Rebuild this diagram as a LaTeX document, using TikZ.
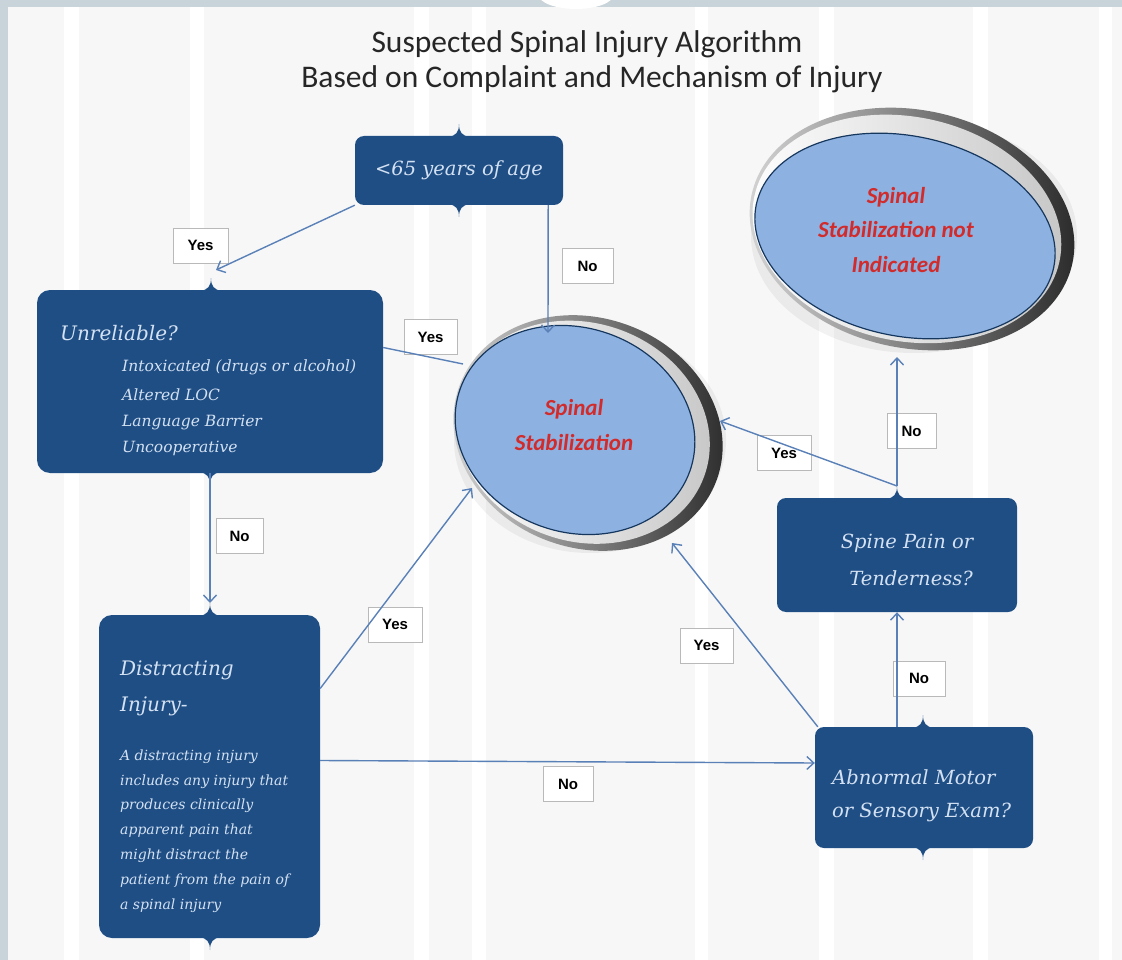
\documentclass[tikz,border=0pt]{standalone}
\usepackage{fontspec}
\setmainfont{DejaVu Serif}
\newfontfamily\titlefont{Carlito}
\newfontfamily\boxfont{DejaVu Serif}
\newfontfamily\labelfont{Liberation Sans}
\usetikzlibrary{arrows.meta,shapes.geometric,calc}
\definecolor{boxblue}{HTML}{1F4E85}
\definecolor{boxtext}{HTML}{D3E1F2}
\definecolor{arrowblue}{HTML}{5A80B8}
\definecolor{ellblue}{HTML}{8DB1E1}
\definecolor{redtext}{HTML}{D22B2B}
\definecolor{bggray}{HTML}{C9D3DA}
\definecolor{bgpaper}{HTML}{F7F7F7}
\newcommand\cuspUp[2]{\fill[boxblue] (#1-11,#2+1) .. controls (#1-3,#2) and (#1,#2-4) .. (#1,#2-12) .. controls (#1,#2-4) and (#1+3,#2) .. (#1+11,#2+1) -- cycle;}
\newcommand\cuspDown[2]{\fill[boxblue] (#1-11,#2-1) .. controls (#1-3,#2) and (#1,#2+4) .. (#1,#2+12) .. controls (#1,#2+4) and (#1+3,#2) .. (#1+11,#2-1) -- cycle;}
\begin{document}
\begin{tikzpicture}[x=1pt,y=-1pt,
  flowbox/.style={draw=none, fill=boxblue, rounded corners=9pt, inner sep=0pt},
  boxtxt/.style={text=boxtext, inner sep=0pt},
  lbl/.style={draw=gray!55, line width=0.8pt, fill=white, minimum height=35pt, inner sep=0pt, font=\labelfont\bfseries\fontsize{15}{15}\selectfont, text=black},
  conn/.style={draw=arrowblue, line width=1.4pt, -{Straight Barb[length=7pt,width=13pt,line width=1.4pt]}},
  plainconn/.style={draw=arrowblue, line width=1.4pt},
  elltxt/.style={text=redtext, font=\titlefont\bfseries\itshape\fontsize{23}{34.5}\selectfont, align=center, inner sep=0pt}
]
\useasboundingbox (0,0) rectangle (1122,960);
% background
\begin{scope}
\clip (0,0) rectangle (1122,960);
\fill[bggray] (0,0) rectangle (1122,960);
\fill[bgpaper] (8,7) rectangle (1122,960);
\foreach \a/\b in {64/79,190/204,414/429,472/486,695/708,819/834,973/988,1099/1112}
  \fill[white] (\a,7) rectangle (\b,960);
\fill[white] (576,-6) ellipse [x radius=38pt, y radius=15pt];
\end{scope}
% title
\node[font=\titlefont\fontsize{31.5}{35}\selectfont, text=black!85] (title1) at (587,44) {Suspected Spinal Injury Algorithm};
\node[font=\titlefont\fontsize{31.5}{35}\selectfont, text=black!85] (title2) at (592,79) {Based on Complaint and Mechanism of Injury};
% ellipse 1
\fill[black, opacity=0.05] (590,440) ellipse [x radius=136pt, y radius=113pt];
\begin{scope}[shift={(588,433)}, rotate=-20]
\shade[left color=gray!30, right color=black!85] (0,0) ellipse [x radius=137pt, y radius=115pt];
\shade[left color=white, right color=gray!45] (-5,1) ellipse [x radius=129pt, y radius=109pt];
\end{scope}
\node[ellipse, fill=ellblue, draw=boxblue!70!black, line width=1.2pt, minimum width=244pt, minimum height=204pt, rotate=-20, inner sep=0pt] (e1) at (575,430) {};
\node[elltxt] (e1t) at (574,425) {Spinal\\Stabilization};
% ellipse 2
\fill[black, opacity=0.05] (914,236) ellipse [x radius=163pt, y radius=117pt];
\begin{scope}[shift={(912,229)}, rotate=-12]
\shade[left color=gray!30, right color=black!85] (0,0) ellipse [x radius=164pt, y radius=119pt];
\shade[left color=white, right color=gray!45] (-5,1) ellipse [x radius=156pt, y radius=112pt];
\end{scope}
\node[ellipse, fill=ellblue, draw=boxblue!70!black, line width=1.2pt, minimum width=304pt, minimum height=200pt, rotate=-12, inner sep=0pt] (e2) at (905,236) {};
\node[elltxt] (e2t) at (896,230) {Spinal\\Stabilization not\\Indicated};
% boxes
\node[flowbox, minimum width=208pt, minimum height=69pt] (b1) at (459,170.5) {};
\cuspUp{459}{136}\cuspDown{459}{205}
\node[flowbox, minimum width=346pt, minimum height=183pt, rounded corners=13pt] (b2) at (210,381.5) {};
\cuspUp{211}{290}\cuspDown{210}{473}
\node[flowbox, minimum width=221pt, minimum height=323pt, rounded corners=13pt] (b3) at (209.5,776.5) {};
\cuspUp{210}{615}\cuspDown{210}{938}
\node[flowbox, minimum width=240pt, minimum height=114pt] (b4) at (897,555) {};
\cuspUp{897}{498}
\node[flowbox, minimum width=218pt, minimum height=121pt] (b5) at (924,787.5) {};
\cuspUp{923}{727}\cuspDown{923}{848}
% box texts
\node[boxtxt, font=\boxfont\itshape\fontsize{19.5}{20}\selectfont] (t1) at (459,170) {<65 years of age};
\node[boxtxt, font=\boxfont\itshape\fontsize{20}{20}\selectfont, anchor=west] (t2) at (60,333) {Unreliable?};
\foreach \y/\s [count=\i] in {367/Intoxicated (drugs or alcohol),395/Altered LOC,423/Language Barrier,448/Uncooperative}
  \node[boxtxt, font=\boxfont\itshape\fontsize{15.5}{16}\selectfont, anchor=west] (t2\i) at (122,\y) {\s};
\node[boxtxt, font=\boxfont\itshape\fontsize{20}{20}\selectfont, anchor=west] (t3a) at (120,670) {Distracting};
\node[boxtxt, font=\boxfont\itshape\fontsize{20}{20}\selectfont, anchor=west] (t3b) at (120,706) {Injury-};
\foreach \y/\s [count=\i] in {757/A distracting injury,782/includes any injury that,806/produces clinically,831/apparent pain that,856/might distract the,881/patient from the pain of,906/a spinal injury}
  \node[boxtxt, font=\boxfont\itshape\fontsize{14}{14}\selectfont, anchor=west] (t3\i) at (120,\y) {\s};
\node[boxtxt, font=\boxfont\itshape\fontsize{19.5}{20}\selectfont] (t4a) at (907,543) {Spine Pain or};
\node[boxtxt, font=\boxfont\itshape\fontsize{19.5}{20}\selectfont] (t4b) at (911,578) {Tenderness?};
\node[boxtxt, font=\boxfont\itshape\fontsize{19.5}{20}\selectfont, anchor=west] (t5a) at (832,777) {Abnormal Motor};
\node[boxtxt, font=\boxfont\itshape\fontsize{19.5}{20}\selectfont, anchor=west] (t5b) at (832,812) {or Sensory Exam?};
% labels
\node[lbl, minimum width=55pt] (l1) at (200.5,245.5) {Yes};
\node[lbl, minimum width=51pt] (l2) at (587.5,266) {No};
\node[lbl, minimum width=53pt] (l3) at (430.5,337) {Yes};
\node[lbl, minimum width=47pt] (l4) at (239.5,536) {No};
\node[lbl, minimum width=54pt] (l5) at (395,624.5) {Yes};
\node[lbl, minimum width=50pt] (l6) at (568,784) {No};
\node[lbl, minimum width=53pt] (l7) at (706.5,645.5) {Yes};
\node[lbl, minimum width=52pt] (l8) at (919,678.5) {No};
\node[lbl, minimum width=54pt] (l9) at (784,453) {Yes};
\node[lbl, minimum width=49pt] (l10) at (911.5,431) {No};
% connector end points
\coordinate (p1) at (216,270);
\coordinate (p2) at (548,333);
\coordinate (p3) at (463,364);
\coordinate (p4) at (210,603);
\coordinate (p5) at (472,488);
\coordinate (p7) at (672,543);
\coordinate (b4top) at (897,486);
\coordinate (p9) at (720,421);
\coordinate (p10) at (897,357);
% connectors
\draw[conn] (b1.south west) -- (p1);
\draw[conn] ([xshift=-15pt]b1.south east) -- (p2);
\draw[plainconn] ([yshift=34pt]b2.east) -- (p3);
\draw[conn] (b2.south) -- (p4);
\draw[conn] ([yshift=88pt]b3.east) -- (p5);
\draw[conn] ([yshift=16pt]b3.east) -- ([yshift=24.5pt]b5.west);
\draw[conn] ([xshift=3pt]b5.north west) -- (p7);
\draw[conn] ([xshift=-27pt]b5.north) -- (b4.south);
\draw[conn] (b4top) -- (p9);
\draw[conn] (b4top) -- (p10);
\end{tikzpicture}
\end{document}
